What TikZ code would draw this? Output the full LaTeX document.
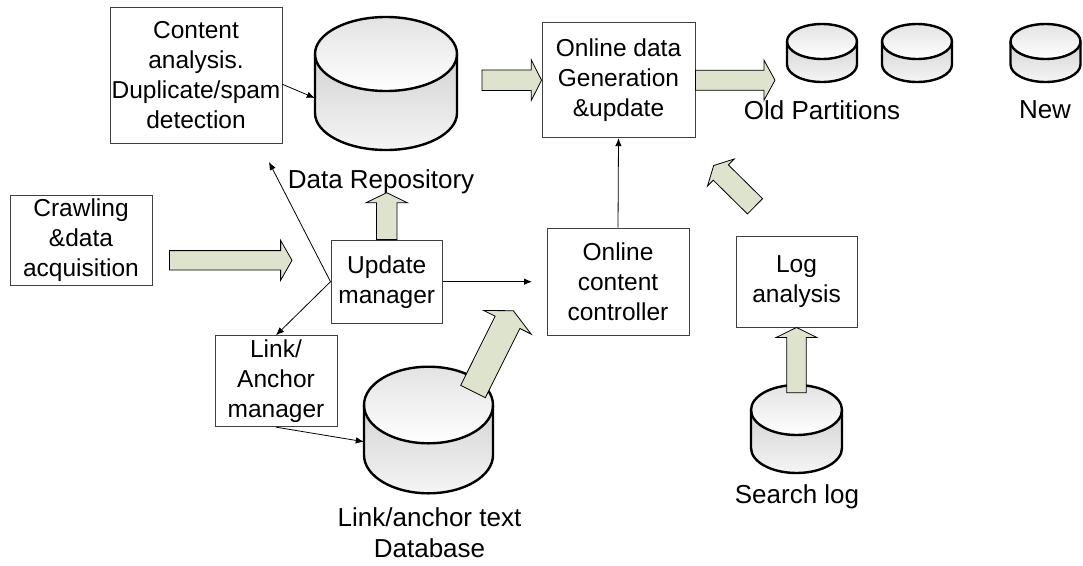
\documentclass[tikz,border=0pt]{standalone}
\usepackage{fontspec}
\setmainfont{Liberation Sans}
\usetikzlibrary{calc,arrows.meta}
\definecolor{arrfill}{RGB}{221,227,205}
\definecolor{boxline}{RGB}{64,64,64}
% cylinder: cx, top centre y, bottom centre y, rx, ry (y measured downward)
\newcommand{\dbcyl}[5]{%
  \shade[top color=gray!45, bottom color=gray!8] ({#1-#4},{-#2}) -- ({#1-#4},{-#3}) arc[start angle=180,end angle=360,x radius=#4,y radius=#5] -- ({#1+#4},{-#2}) arc[start angle=0,end angle=180,x radius=#4,y radius=#5] -- cycle;
  \shade[top color=gray!22, bottom color=white] (#1,-#2) ellipse[x radius=#4, y radius=#5];
  \draw[cylline] ({#1-#4},{-#2}) -- ({#1-#4},{-#3}) arc[start angle=180,end angle=360,x radius=#4,y radius=#5] -- ({#1+#4},{-#2});
  \draw[cylline] (#1,-#2) ellipse[x radius=#4, y radius=#5];
}
% fat arrow: start, tip, head length, half body width, half head width
\newcommand{\fatarrow}[5]{%
  \coordinate (#1h) at ($(#2)!#3!(#1)$);
  \draw[fatarr] ($(#1)!#4!90:(#2)$) -- ($(#1h)!#4!90:(#2)$) -- ($(#1h)!#5!90:(#2)$) -- (#2) -- ($(#1h)!#5!-90:(#2)$) -- ($(#1h)!#4!-90:(#2)$) -- ($(#1)!#4!-90:(#2)$) -- cycle;
}
\begin{document}
\begin{tikzpicture}[x=1pt,y=1pt,
  box/.style={draw=boxline, line width=0.9pt, align=center, inner sep=0pt, font=\fontsize{24.5}{30}\selectfont},
  lbl/.style={align=center, inner sep=0pt, font=\fontsize{26}{31}\selectfont},
  conn/.style={draw=black, line width=0.8pt, -{Latex[length=8pt,width=6.5pt]}},
  fatarr/.style={draw=black, line width=0.8pt, fill=arrfill, line join=miter},
  cylline/.style={draw=black, line width=2.4pt},
  cylnode/.style={inner sep=0pt, draw=none}
]
\useasboundingbox (0,0) rectangle (1083,-565);

% boxes
\node[box, minimum width=172pt, minimum height=136pt] (content) at (196,-75.3) {Content\\analysis.\\Duplicate/spam\\detection};
\node[box, minimum width=153pt, minimum height=115pt] (online) at (618.5,-80.2) {Online data\\Generation\\\&update};
\node[box, minimum width=142pt, minimum height=90pt] (crawl) at (81,-240) {Crawling\\\&data\\acquisition};
\node[box, minimum width=111.5pt, minimum height=83.3pt] (update) at (386.7,-281.7) {Update\\manager};
\node[box, minimum width=122pt, minimum height=91pt] (link) at (276,-381.2) {Link/\\Anchor\\manager};
\node[box, minimum width=142pt, minimum height=107pt] (ctrl) at (618,-281.5) {Online\\content\\controller};
\node[box, minimum width=121pt, minimum height=91pt] (log) at (796.5,-281.5) {Log\\analysis};

% cylinders
\dbcyl{386}{54}{113}{71}{37}
\node[cylnode, minimum width=142pt, minimum height=133pt] (repo) at (386,-83.5) {};
\dbcyl{428.5}{405}{455}{64.5}{38.3}
\node[cylnode, minimum width=129pt, minimum height=126.6pt] (linkdb) at (428.5,-430) {};
\dbcyl{796.5}{410}{448}{45.5}{25}
\node[cylnode, minimum width=91pt, minimum height=88pt] (search) at (796.5,-429) {};
\dbcyl{822}{41.5}{64.5}{35}{17.5}
\node[cylnode, minimum width=70pt, minimum height=58pt] (part1) at (822,-53) {};
\dbcyl{917}{41.5}{64.5}{35}{17.5}
\node[cylnode, minimum width=70pt, minimum height=58pt] (part2) at (917,-53) {};
\dbcyl{1045.5}{41.5}{64.5}{35}{17.5}
\node[cylnode, minimum width=70pt, minimum height=58pt] (partnew) at (1045.5,-53) {};

% labels
\node[lbl] (repolbl) at (381,-182) {Data Repository};
\node[lbl] (oldlbl) at (822,-110) {Old Partitions};
\node[lbl] (newlbl) at (1045,-110) {New};
\node[lbl] (linklbl) at (429.5,-532.5) {Link/anchor text\\Database};
\node[lbl] (searchlbl) at (797,-497) {Search log};

% thin connectors
\coordinate (contentfree) at (269,-162);
\coordinate (ctrlfree) at (532,-281.7);
\draw[conn] ([yshift=-9pt]content.east) -- ([yshift=-14.5pt]repo.west);
\draw[conn] (update.west) -- (contentfree);
\draw[conn] (update.west) -- (link.north);
\draw[conn] (update.east) -- (ctrlfree);
\draw[conn] (link.south) -- ([yshift=-11.7pt]linkdb.west);
\draw[conn] (ctrl.north) -- (online.south);

% fat arrows
\coordinate (a1s) at (169.4,-260.3);
\coordinate (a1t) at (292,-260.3);
\fatarrow{a1s}{a1t}{11.4pt}{9.7pt}{20pt}
\coordinate (a2s) at (update.north);
\coordinate (a2t) at (386.7,-192.7);
\fatarrow{a2s}{a2t}{10pt}{10.3pt}{20.6pt}
\coordinate (a3s) at (482,-80.2);
\coordinate (a3t) at (online.west);
\fatarrow{a3s}{a3t}{10.3pt}{10.3pt}{20.3pt}
\coordinate (a4s) at (online.east);
\coordinate (a4t) at (775,-80.2);
\fatarrow{a4s}{a4t}{11pt}{10pt}{20pt}
\coordinate (a5s) at (473,-391.5);
\coordinate (a5t) at (513.3,-310.7);
\fatarrow{a5s}{a5t}{13pt}{13.8pt}{26.5pt}
\coordinate (a6s) at (755,-206.3);
\coordinate (a6t) at (713.7,-165.5);
\fatarrow{a6s}{a6t}{10pt}{10.75pt}{19pt}
\coordinate (a7s) at ([yshift=-8pt]search.north);
\coordinate (a7t) at (log.south);
\fatarrow{a7s}{a7t}{10pt}{9.7pt}{20.3pt}
\end{tikzpicture}
\end{document}
